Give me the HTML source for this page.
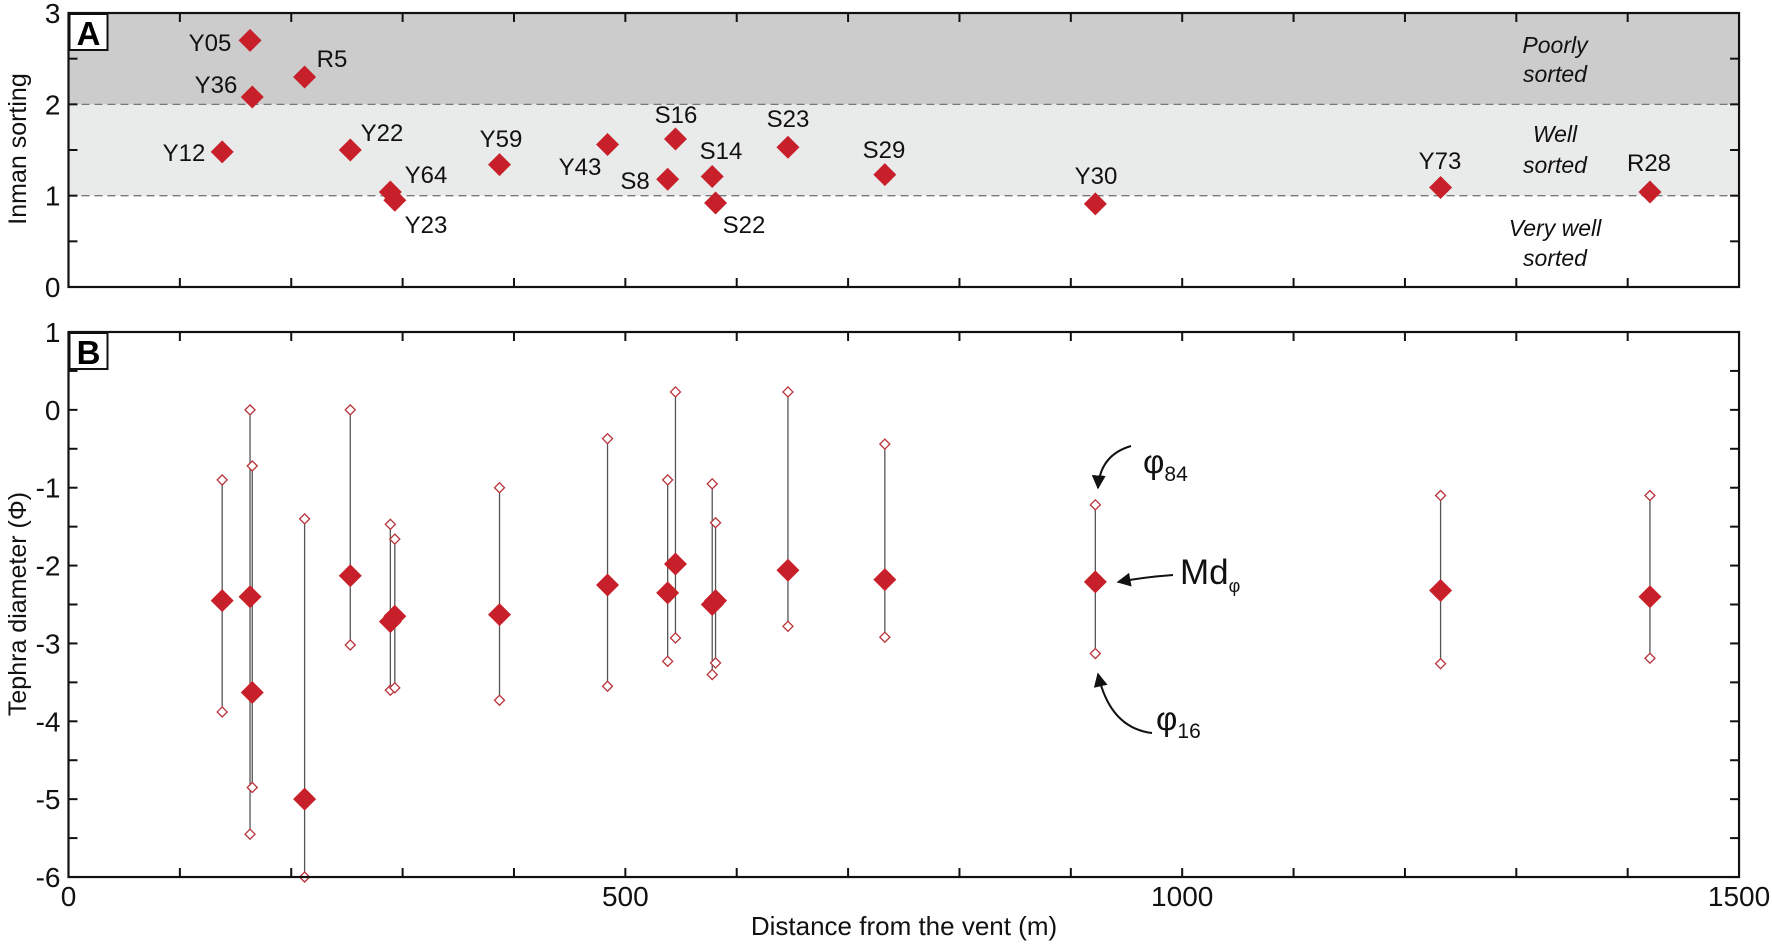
<!DOCTYPE html>
<html><head><meta charset="utf-8"><style>
html,body{margin:0;padding:0;background:#fff;}
svg{display:block;font-family:"Liberation Sans",Arial,sans-serif;}
</style></head><body>
<svg id="s" width="1772" height="944" xmlns="http://www.w3.org/2000/svg"></svg>
<script>
const X0=68.5,XS=1.1137;
const ax=m=>X0+m*XS;
const ayA=v=>287-v*91.33;
const ayB=v=>332+(1-v)*77.86;
let h='';
h+=`<rect x="${X0}" y="${ayA(3)}" width="${ax(1500)-X0}" height="${ayA(2)-ayA(3)}" fill="#cccccc"/>`;
h+=`<rect x="${X0}" y="${ayA(2)}" width="${ax(1500)-X0}" height="${ayA(1)-ayA(2)}" fill="#e9eaea"/>`;
h+=`<line x1="${X0}" x2="${ax(1500)}" y1="${ayA(2)}" y2="${ayA(2)}" stroke="#777" stroke-width="1.3" stroke-dasharray="8,5"/>`;
h+=`<line x1="${X0}" x2="${ax(1500)}" y1="${ayA(1)}" y2="${ayA(1)}" stroke="#777" stroke-width="1.3" stroke-dasharray="8,5"/>`;
function frame(top,bot,yf,ymin,ymax,step){
  let r='';
  for(let m=100;m<1500;m+=100){
    r+=`<line x1="${ax(m)}" x2="${ax(m)}" y1="${bot}" y2="${bot-9}" stroke="#111" stroke-width="2"/>`;
    r+=`<line x1="${ax(m)}" x2="${ax(m)}" y1="${top}" y2="${top+9}" stroke="#111" stroke-width="2"/>`;
  }
  for(let v=ymin;v<=ymax+1e-9;v+=step){
    const y=yf(v);
    r+=`<line x1="${X0}" x2="${X0+9}" y1="${y}" y2="${y}" stroke="#111" stroke-width="2"/>`;
    r+=`<line x1="${ax(1500)}" x2="${ax(1500)-9}" y1="${y}" y2="${y}" stroke="#111" stroke-width="2"/>`;
  }
  for(let v=ymin;v<=ymax;v++){
    r+=`<text x="${X0-8}" y="${yf(v)+10}" font-size="28" text-anchor="end" fill="#111">${v}</text>`;
  }
  r+=`<rect x="${X0}" y="${top}" width="${ax(1500)-X0}" height="${bot-top}" fill="none" stroke="#111" stroke-width="2.2"/>`;
  return r;
}
const dia=(x,y,r,fill,stroke,sw)=>`<path d="M${x} ${y-r}L${x+r} ${y}L${x} ${y+r}L${x-r} ${y}Z" fill="${fill}" stroke="${stroke}" stroke-width="${sw}"/>`;
const D=[
 ['Y05',163,2.70,-2.40,0,-5.45,210,42],
 ['Y36',165,2.08,-3.63,-0.72,-4.85,216,84],
 ['Y12',138,1.48,-2.45,-0.9,-3.88,184,152],
 ['R5',212,2.30,-5.0,-1.4,-6.0,332,58],
 ['Y22',253,1.50,-2.13,0,-3.02,382,132],
 ['Y64',289,1.04,-2.72,-1.47,-3.6,426,174],
 ['Y23',293,0.95,-2.65,-1.66,-3.57,426,224],
 ['Y59',387,1.34,-2.63,-1.0,-3.73,501,138],
 ['Y43',484,1.56,-2.25,-0.37,-3.55,580,166],
 ['S8',538,1.18,-2.35,-0.9,-3.23,635,180],
 ['S16',545,1.62,-1.98,0.23,-2.93,676,114],
 ['S14',578,1.21,-2.50,-0.95,-3.4,721,150],
 ['S22',581,0.92,-2.45,-1.45,-3.25,744,224],
 ['S23',646,1.53,-2.06,0.23,-2.78,788,118],
 ['S29',733,1.23,-2.18,-0.44,-2.92,884,149],
 ['Y30',922,0.91,-2.21,-1.22,-3.13,1096,175],
 ['Y73',1232,1.09,-2.32,-1.1,-3.26,1440,160],
 ['R28',1420,1.04,-2.40,-1.1,-3.19,1649,162]
];
D.forEach(d=>{
  const x=ax(d[1]);
  h+=dia(x,ayA(d[2]),11.5,'#c8202a','none',0);
  h+=`<text x="${d[6]}" y="${d[7]+9}" font-size="24" text-anchor="middle" fill="#111">${d[0]}</text>`;
});
[['Poorly',45],['sorted',74],['Well',134],['sorted',165],['Very well',228],['sorted',258]].forEach(t=>{
  h+=`<text x="1555" y="${t[1]+8}" font-size="23" font-style="italic" text-anchor="middle" fill="#111">${t[0]}</text>`;
});
h+=frame(ayA(3),ayA(0),ayA,0,3,0.5);
D.forEach(d=>{
  const x=ax(d[1]);
  h+=`<line x1="${x}" x2="${x}" y1="${ayB(d[4])}" y2="${ayB(d[5])}" stroke="#555" stroke-width="1.3"/>`;
});
D.forEach(d=>{
  const x=ax(d[1]);
  h+=dia(x,ayB(d[4]),5,'#fff','#b8333a',1.3);
  h+=dia(x,ayB(d[5]),5,'#fff','#b8333a',1.3);
  h+=dia(x,ayB(d[3]),11.5,'#c8202a','none',0);
});
h+=frame(ayB(1),ayB(-6),ayB,-6,1,0.5);
h+=`<rect x="${X0+1}" y="14" width="38" height="36" fill="#fff" stroke="#111" stroke-width="2"/><text x="${X0+20}" y="45" font-size="33" font-weight="bold" text-anchor="middle">A</text>`;
h+=`<rect x="${X0+1}" y="333" width="38" height="36" fill="#fff" stroke="#111" stroke-width="2"/><text x="${X0+20}" y="364" font-size="33" font-weight="bold" text-anchor="middle">B</text>`;
[0,500,1000,1500].forEach(m=>{h+=`<text x="${ax(m)}" y="906" font-size="28" text-anchor="middle" fill="#111">${m}</text>`;});
h+=`<text x="904" y="935" font-size="26" text-anchor="middle" fill="#111">Distance from the vent (m)</text>`;
h+=`<text transform="translate(26,149) rotate(-90)" font-size="25" text-anchor="middle" fill="#111">Inman sorting</text>`;
h+=`<text transform="translate(26,604) rotate(-90)" font-size="25" text-anchor="middle" fill="#111">Tephra diameter (Φ)</text>`;
h+=`<defs><marker id="ar" viewBox="0 0 10 10" refX="9" refY="5" markerWidth="7" markerHeight="7" orient="auto-start-reverse"><path d="M0 0L10 5L0 10Z" fill="#111"/></marker></defs>`;
h+=`<path d="M1131 446 Q1100 455 1098 488" fill="none" stroke="#111" stroke-width="2" marker-end="url(#ar)"/>`;
h+=`<path d="M1173 575 Q1145 577 1118 582" fill="none" stroke="#111" stroke-width="2" marker-end="url(#ar)"/>`;
h+=`<path d="M1152 733 Q1110 728 1098 674" fill="none" stroke="#111" stroke-width="2" marker-end="url(#ar)"/>`;
h+=`<text x="1143" y="473" font-size="33" fill="#111">φ<tspan font-size="21" dy="8">84</tspan></text>`;
h+=`<text x="1180" y="584" font-size="35" fill="#111">Md<tspan font-size="18" dy="8">φ</tspan></text>`;
h+=`<text x="1156" y="730" font-size="33" fill="#111">φ<tspan font-size="21" dy="8">16</tspan></text>`;
document.getElementById('s').innerHTML=h;
</script>
</body></html>
